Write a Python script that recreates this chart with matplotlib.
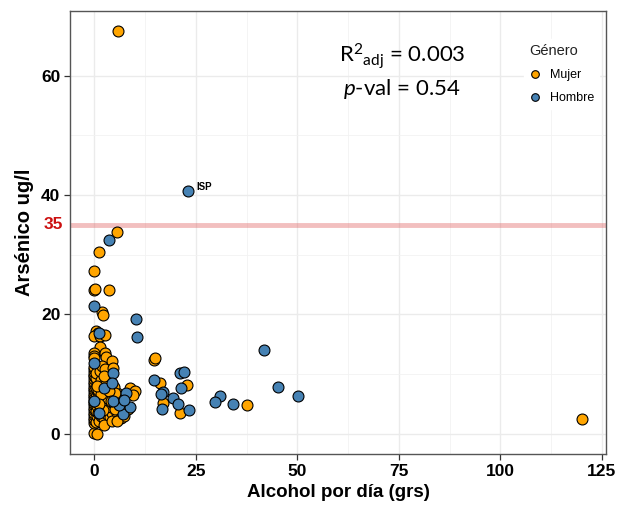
import matplotlib
matplotlib.use("Agg")
import matplotlib.pyplot as plt
import matplotlib.transforms as mtransforms
from matplotlib.lines import Line2D

# Daily alcohol intake (g) and urinary arsenic (ug/l), by sex
mujer_x = [5.8, 5.5, 1.2, 0.0, 0.0, 0.2, 3.7, 1.9, 2.2,
           0.3, 1.0, 2.0, 0.0, 1.5, 2.5, 1.4, 0.0, 0.0, 0.0, 2.6, 2.9, 4.3,
           14.8, 14.9, 16.2, 22.7, 16.8, 37.5, 21.1, 120.1, 0.0, 0.6,
           0.0, 0.0, 0.0, 0.0, 0.0, 0.0, 0.0, 0.0, 0.0, 0.0, 0.0, 0.0,
           0.0, 0.0, 0.0, 0.0, 0.0, 0.0, 0.0, 0.0, 0.0, 0.0, 0.0, 0.0,
           0.4, 0.6, 0.3, 0.7, 0.5, 0.4, 0.8, 0.3, 0.6, 0.5, 0.4,
           1.1, 1.6, 1.3, 1.8, 1.2, 1.5, 1.9, 1.0, 1.4, 1.7, 1.3, 1.8,
           2.4, 3.1, 2.6, 3.3, 2.2, 2.9, 3.4, 2.5, 3.0, 2.7,
           3.8, 4.4, 4.0, 4.7, 3.9, 4.9, 4.2, 3.8, 4.6,
           5.6, 5.1, 6.3, 5.5, 6.5, 7.3, 4.9, 5.1,
           8.8, 10.0, 9.6, 8.2, 2.4, 4.4, 5.6,
           0.9, 2.1, 3.2, 1.6, 2.8, 0.7, 3.6, 1.2, 2.3, 4.1]
mujer_y = [67.4, 33.8, 30.5, 27.3, 24.0, 24.2, 24.1, 20.4, 19.9,
           17.2, 16.9, 16.6, 16.4, 16.3, 16.5, 14.6, 13.6, 13.0, 12.6, 13.5, 12.8, 12.1,
           12.4, 12.6, 8.5, 8.1, 5.2, 4.8, 3.5, 2.5, 0.1, 0.0,
           1.8, 2.3, 2.7, 3.2, 3.5, 3.9, 4.3, 4.8, 5.1, 5.5, 6.0, 6.3,
           6.7, 7.2, 7.5, 7.9, 8.4, 8.7, 9.1, 9.6, 9.9, 10.3, 10.8, 11.1,
           2.0, 2.9, 3.8, 4.6, 5.3, 6.1, 7.0, 7.7, 8.6, 9.4, 10.2,
           2.2, 3.0, 3.6, 4.4, 5.0, 5.8, 6.4, 7.3, 8.1, 9.0, 10.5, 11.3,
           2.5, 3.3, 4.1, 4.9, 5.6, 6.2, 7.0, 7.8, 9.2, 10.9,
           2.8, 3.5, 4.4, 5.2, 6.0, 6.8, 7.6, 9.0, 11.0,
           3.5, 4.2, 5.7, 6.8, 2.6, 2.9, 7.9, 6.8,
           7.6, 7.1, 6.5, 4.2, 1.5, 2.1, 2.1,
           3.4, 4.0, 5.9, 6.7, 8.6, 8.0, 7.2, 4.9, 9.7, 5.5]

hombre_x = [23.0, 3.7, 0.0, 10.2, 10.4, 1.1, 41.8, 14.6, 21.1, 22.1, 45.2,
            21.4, 16.9, 16.4, 50.2, 30.9, 29.8, 19.3, 20.7, 34.1, 16.6, 23.4,
            4.5, 7.1, 8.8, 7.8, 6.1, 4.7, 0.0, 2.4, 4.4, 7.3, 0.0, 1.1]
hombre_y = [40.6, 32.4, 21.4, 19.2, 16.2, 16.9, 14.1, 9.0, 10.2, 10.4, 7.9,
            7.7, 7.0, 6.6, 6.4, 6.4, 5.3, 5.9, 5.0, 5.0, 4.1, 4.0,
            10.2, 3.3, 4.5, 6.9, 4.8, 5.4, 11.9, 7.6, 8.5, 5.7, 5.4, 3.5]

umbral = 35
etiqueta_punto = "ISP"
etiqueta_xy = (23.0, 40.6)

orange = "#FFA500"
blue = "#4682B4"

fig = plt.figure(figsize=(6.18, 5.08), dpi=100)
ax = fig.add_axes([70 / 618, 54 / 508, 536 / 618, 443.5 / 508])

ax.set_xlim(-6, 126)
ax.set_ylim(-3.4, 70.9)

ax.set_xticks([0, 25, 50, 75, 100, 125])
ax.set_xticks([12.5, 37.5, 62.5, 87.5, 112.5], minor=True)
ax.set_yticks([0, 20, 40, 60])
ax.set_yticks([10, 30, 50], minor=True)
ax.grid(which="major", color="#ebebeb", lw=1.0, zorder=0)
ax.grid(which="minor", color="#f2f2f2", lw=0.6, zorder=0)
ax.set_axisbelow(True)

for s in ax.spines.values():
    s.set_color("#555555")
    s.set_linewidth(1.0)

ax.tick_params(which="major", length=4, color="#333333", width=0.9,
               labelsize=12.5, labelcolor="black", pad=3)
ax.tick_params(which="minor", length=0)
for lab in ax.get_xticklabels() + ax.get_yticklabels():
    lab.set_fontfamily("Liberation Sans")
    lab.set_fontweight("bold")

ax.axhline(umbral, color="#e06060", lw=3.5, alpha=0.4, zorder=1)
trans = mtransforms.blended_transform_factory(ax.transAxes, ax.transData)
ax.text(-0.013, umbral, str(umbral), transform=trans, ha="right", va="center",
        color="#cc1010", fontsize=12.5, fontweight="bold", family="Liberation Sans")

ax.scatter(mujer_x, mujer_y, s=62, c=orange, edgecolors="black", linewidths=0.8, zorder=3)
ax.scatter(hombre_x, hombre_y, s=62, c=blue, edgecolors="black", linewidths=0.8, zorder=3)

ax.annotate(etiqueta_punto, xy=etiqueta_xy, xytext=(6, 3.5), textcoords="offset points",
            fontsize=7, fontweight="bold", family="Liberation Sans", va="center")

ax.set_xlabel("Alcohol por día (grs)", fontsize=13.5, fontweight="bold",
              family="Liberation Sans", labelpad=4)
ax.set_ylabel("Arsénico ug/l", fontsize=14.5, fontweight="bold",
              family="Liberation Sans", labelpad=5)

plt.rcParams["mathtext.fontset"] = "custom"
plt.rcParams["mathtext.rm"] = "Lato"
plt.rcParams["mathtext.it"] = "Lato:italic"
fig.text(402 / 618, 1 - 56 / 508, r"R$^{2}{}_{\mathrm{adj}}$ = 0.003", fontsize=16,
         family="Lato", ha="center", va="center")
fig.text(402 / 618, 1 - 89 / 508, r"$p$-val = 0.54", fontsize=16,
         family="Lato", ha="center", va="center")

handles = [Line2D([], [], ls="none", marker="o", ms=5.5, mfc=orange, mec="black", mew=0.8),
           Line2D([], [], ls="none", marker="o", ms=5.5, mfc=blue, mec="black", mew=0.8)]
leg = ax.legend(handles, ["Mujer", "Hombre"], title="Género", loc="upper left",
                bbox_to_anchor=(0.835, 0.95), frameon=True, fancybox=False,
                framealpha=1, edgecolor="white", prop={"family": "Liberation Sans", "size": 9},
                title_fontproperties={"family": "Liberation Sans", "size": 10.5},
                handletextpad=0.7, labelspacing=0.9, borderpad=0.4, handlelength=1.0)
leg._legend_box.align = "left"
leg.get_title().set_color("#222222")

fig.savefig("out.png", dpi=100)
